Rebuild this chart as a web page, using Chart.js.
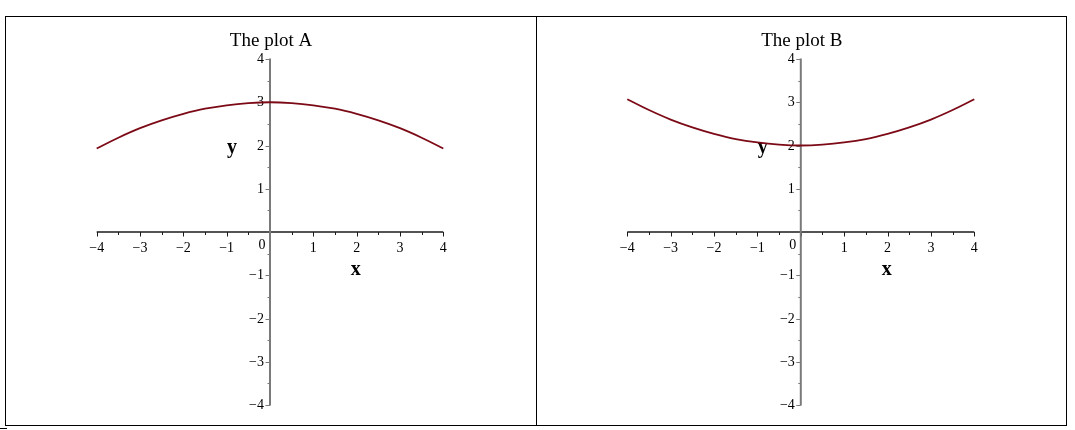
<!DOCTYPE html>
<html>
<head>
<meta charset="utf-8">
<script src="https://cdn.jsdelivr.net/npm/chart.js@4.4.1/dist/chart.umd.min.js"></script>
<style>
  html, body { margin: 0; padding: 0; background: #fff; width: 1075px; height: 430px; overflow: hidden; }
  .wrap { position: absolute; left: 0; top: 0; width: 1075px; height: 430px; }
  canvas { position: absolute; top: 0; }
  .ln { position: absolute; background: #000; z-index: 5; }
</style>
</head>
<body>
<div class="wrap">
  <canvas id="cA" width="537" height="430" style="left:0px"></canvas>
  <canvas id="cB" width="538" height="430" style="left:537px"></canvas>
  <div class="ln" style="left:5px; top:16px; width:1062px; height:1px;"></div>
  <div class="ln" style="left:5px; top:425px; width:1062px; height:1px;"></div>
  <div class="ln" style="left:5px; top:16px; width:1px; height:410px;"></div>
  <div class="ln" style="left:536px; top:16px; width:1px; height:410px;"></div>
  <div class="ln" style="left:1066px; top:16px; width:1px; height:410px;"></div>
  <div class="ln" style="left:0px; top:428px; width:7px; height:1px;"></div>
</div>
<script>
// ---- data ----
const xValues = [-4, -3.5, -3, -2.5, -2, -1.5, -1, -0.5, 0, 0.5, 1, 1.5, 2, 2.5, 3, 3.5, 4];
const seriesA = [1.93, 2.18, 2.40, 2.58, 2.73, 2.85, 2.93, 2.98, 3.00, 2.98, 2.93, 2.85, 2.73, 2.58, 2.40, 2.18, 1.93];
const seriesB = [3.07, 2.82, 2.60, 2.42, 2.27, 2.15, 2.07, 2.02, 2.00, 2.02, 2.07, 2.15, 2.27, 2.42, 2.60, 2.82, 3.07];
const majorTicks = [-4, -3, -2, -1, 0, 1, 2, 3, 4];
const minorTicks = [-3.5, -2.5, -1.5, -0.5, 0.5, 1.5, 2.5, 3.5];
const xTickLabels = ["\u22124", "\u22123", "\u22122", "\u22121", "0", "1", "2", "3", "4"];
const yTickLabels = ["\u22124", "\u22123", "\u22122", "\u22121", "0", "1", "2", "3", "4"];
const titles = ["The plot A", "The plot B"];
const xAxisTitle = "x";
const yAxisTitle = "y";

const SERIF = '"Liberation Serif", "Times New Roman", serif';

const mapleAxes = {
  id: 'mapleAxes',
  beforeDatasetsDraw(chart, args, opts) {
    const ctx = chart.ctx;
    const sx = chart.scales.x, sy = chart.scales.y;
    const x0 = sx.getPixelForValue(0), y0 = sy.getPixelForValue(0);
    const xL = sx.getPixelForValue(majorTicks[0]), xR = sx.getPixelForValue(majorTicks[majorTicks.length - 1]);
    const yT = sy.getPixelForValue(majorTicks[majorTicks.length - 1]), yB = sy.getPixelForValue(majorTicks[0]);
    ctx.save();
    // x axis
    ctx.strokeStyle = '#1a1a1a';
    ctx.lineWidth = 1.5;
    ctx.beginPath(); ctx.moveTo(xL, y0); ctx.lineTo(xR, y0); ctx.stroke();
    ctx.lineWidth = 1;
    ctx.beginPath();
    majorTicks.forEach(v => { const p = Math.round(sx.getPixelForValue(v)) + 0.5; ctx.moveTo(p, y0); ctx.lineTo(p, y0 + 4.5); });
    minorTicks.forEach(v => { const p = Math.round(sx.getPixelForValue(v)) + 0.5; ctx.moveTo(p, y0); ctx.lineTo(p, y0 + 3); });
    ctx.stroke();
    // y axis
    ctx.strokeStyle = '#7a7a7a';
    ctx.lineWidth = 2;
    ctx.beginPath(); ctx.moveTo(x0, yT - 0.5); ctx.lineTo(x0, yB + 0.5); ctx.stroke();
    ctx.lineWidth = 1.2;
    ctx.beginPath();
    majorTicks.forEach(v => { if (v === 0) return; const p = Math.round(sy.getPixelForValue(v)) + 0.5; ctx.moveTo(x0, p); ctx.lineTo(x0 - 4.5, p); });
    minorTicks.forEach(v => { const p = Math.round(sy.getPixelForValue(v)) + 0.5; ctx.moveTo(x0, p); ctx.lineTo(x0 - 2.5, p); });
    ctx.stroke();
    // tick labels
    ctx.fillStyle = '#000';
    ctx.font = '14px ' + SERIF;
    ctx.textBaseline = 'middle';
    majorTicks.forEach((v, i) => {
      ctx.textAlign = 'center';
      if (v === 0) {
        ctx.fillText(xTickLabels[i], x0 - 8, y0 + 13);
        return;
      }
      ctx.fillText(xTickLabels[i], sx.getPixelForValue(v), y0 + 16);
    });
    ctx.textAlign = 'right';
    majorTicks.forEach((v, i) => {
      if (v === 0) return;
      ctx.fillText(yTickLabels[i], x0 - 6, sy.getPixelForValue(v) + 0.5);
    });
    // axis titles
    ctx.font = 'bold 20px ' + SERIF;
    ctx.textBaseline = 'alphabetic';
    ctx.textAlign = 'center';
    ctx.fillText(xAxisTitle, sx.getPixelForValue(1.98), y0 + 43);
    ctx.fillText(yAxisTitle, x0 - 38, sy.getPixelForValue(2) + 7);
    // chart title
    ctx.font = '19px ' + SERIF;
    ctx.fillText(opts.title, x0 + 1, 46);
    ctx.restore();
  }
};

function makeChart(id, series, title, padL, padR) {
  const pts = xValues.map((x, i) => ({ x: x, y: series[i] }));
  return new Chart(document.getElementById(id), {
    type: 'scatter',
    data: {
      datasets: [{
        data: pts,
        showLine: true,
        borderColor: '#7c0a16',
        borderWidth: 1.8,
        pointRadius: 0,
        pointHoverRadius: 0,
        tension: 0.4,
        clip: false
      }]
    },
    options: {
      responsive: false,
      animation: false,
      events: [],
      layout: { padding: { left: padL, right: padR, top: 59, bottom: 25 } },
      scales: {
        x: { type: 'linear', min: -4, max: 4, display: false },
        y: { type: 'linear', min: -4, max: 4, display: false }
      },
      plugins: {
        legend: { display: false },
        title: { display: false },
        tooltip: { enabled: false },
        mapleAxes: { title: title }
      }
    },
    plugins: [mapleAxes]
  });
}

makeChart('cA', seriesA, titles[0], 96.7, 93.7);
makeChart('cB', seriesB, titles[1], 90.3, 100.7);
</script>
</body>
</html>
